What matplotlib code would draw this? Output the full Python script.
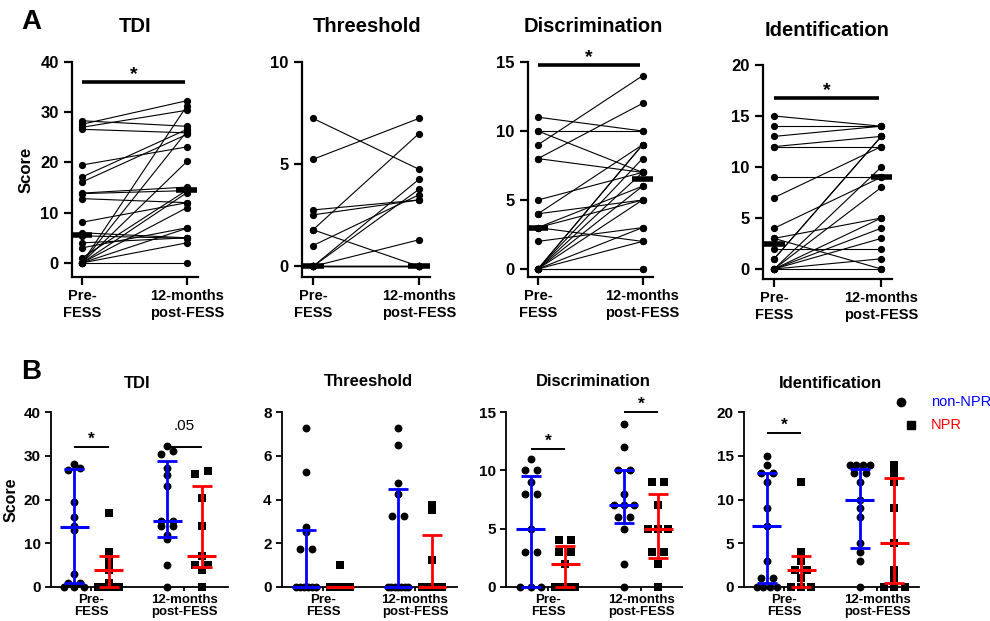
import matplotlib
matplotlib.use('Agg')
import matplotlib.pyplot as plt
import numpy as np
from matplotlib.lines import Line2D

plt.rcParams['font.family'] = ['Liberation Sans', 'DejaVu Sans']

W, H = 990, 621
fig = plt.figure(figsize=(W / 100, H / 100), dpi=100)

TESTS = ['TDI', 'Threeshold', 'Discrimination', 'Identification']
TIME_LABELS = ['Pre-\nFESS', '12-months\npost-FESS']
GROUPS = ['non-NPR', 'NPR']

# ---------------- Panel A: paired data (pre, post) ----------------
tdi_pre = [27.6, 27.0, 28.3, 26.6, 0, 19.5, 17.1, 16.1, 13.9, 13.8, 12.8, 8.1, 6.0, 5.4, 4.0, 3.0, 1.0, 0, 0, 0, 0, 0, 0, 0]
tdi_post = [32.3, 30.4, 27.2, 25.9, 31.3, 23.1, 26.6, 25.6, 15.1, 14.4, 12.0, 12.0, 5.0, 4.9, 5.0, 7.0, 14.5, 26.2, 20.2, 14.0, 11.0, 6.9, 4.0, 0]
thr_pre = [7.24, 5.24, 2.76, 2.52, 1.79, 1.79, 1.02, 0, 0, 0, 0, 0, 0, 0, 0, 0, 0, 0, 0]
thr_post = [4.75, 7.24, 3.25, 3.25, 6.5, 0, 3.5, 4.26, 3.77, 1.3, 0, 0, 0, 0, 0, 0, 0, 0, 0]
dis_pre = [9, 8, 11, 10, 10, 8, 5, 4, 4, 3, 3, 3, 2, 0, 0, 0, 0, 0, 0, 0, 0, 0, 0]
dis_post = [14, 12, 10, 10, 7, 7, 7, 9, 5, 6, 5, 2, 3, 9, 9, 8, 7, 6, 5, 3, 2, 0, 0]
idn_pre = [15, 14, 13, 12, 12, 9, 7, 4, 3, 3, 2, 1, 1, 0, 0, 0, 0, 0, 0, 0]
idn_post = [14, 14, 14, 13, 12, 9, 12, 9, 5, 0, 2, 13, 13, 10, 8, 5, 4, 3, 1, 0]
a_median_pre = [5.5, 0, 3, 2.5]
a_median_post = [14.5, 0, 6.5, 9]
a_sig_level = [36, None, 14.8, 16.8]
a_yticks = [[0, 10, 20, 30, 40], [0, 5, 10], [0, 5, 10, 15], [0, 5, 10, 15, 20]]

# ---------------- Panel B: groups ----------------
b_tdi_non_pre = [28.2, 27.2, 26.8, 19.5, 16.0, 14.0, 13.0, 3.0, 1.0, 1.0, 0, 0, 0]
b_tdi_npr_pre = [17, 8, 6, 5, 4, 1, 0, 0, 0, 0]
b_tdi_non_post = [32.2, 31.2, 30.5, 27.3, 25.7, 23.2, 15, 15, 14, 14, 12, 11, 5, 0]
b_tdi_npr_post = [26.5, 25.8, 20.3, 14, 7, 5, 5, 4, 0]
b_thr_non_pre = [7.25, 5.25, 2.75, 2.5, 1.75, 1.75, 0, 0, 0, 0, 0, 0]
b_thr_npr_pre = [1.0, 0, 0, 0, 0, 0, 0, 0]
b_thr_non_post = [7.25, 6.5, 4.75, 4.25, 3.25, 3.25, 0, 0, 0, 0, 0, 0, 0]
b_thr_npr_post = [3.75, 3.5, 1.25, 0, 0, 0, 0, 0, 0]
b_dis_non_pre = [11, 10, 10, 9, 8, 8, 5, 3, 3, 0, 0, 0]
b_dis_npr_pre = [4, 4, 3, 3, 2, 0, 0, 0, 0]
b_dis_non_post = [14, 12, 10, 10, 8, 7, 7, 7, 6, 6, 5, 2, 0]
b_dis_npr_post = [9, 9, 7, 5, 5, 5, 3, 3, 2, 0]
b_idn_non_pre = [15, 14, 13, 13, 12, 9, 7, 3, 1, 1, 0, 0, 0, 0]
b_idn_npr_pre = [12, 4, 3, 2, 2, 1, 0, 0, 0]
b_idn_non_post = [14, 14, 14, 14, 13, 13, 12, 10, 9, 8, 5, 4, 3, 0]
b_idn_npr_post = [14, 13, 12, 9, 5, 2, 1, 0, 0, 0]

# median, lower quartile, upper quartile: [non-pre, npr-pre, non-post, npr-post]
b_tdi_median = [13.8, 4, 15, 7]
b_tdi_q1 = [1, 0, 11.5, 4.5]
b_tdi_q3 = [26.9, 7.1, 28.8, 23]
b_thr_median = [0, 0, 0, 0]
b_thr_q1 = [0, 0, 0, 0]
b_thr_q3 = [2.6, 0, 4.5, 2.4]
b_dis_median = [5, 2, 7, 5]
b_dis_q1 = [0, 0, 5.5, 2.5]
b_dis_q3 = [9.5, 3.5, 10, 8]
b_idn_median = [7, 2, 10, 5]
b_idn_q1 = [0.5, 0, 4.5, 0.5]
b_idn_q3 = [13, 3.5, 13.5, 12.5]
b_yticks = [[0, 10, 20, 30, 40], [0, 2, 4, 6, 8], [0, 5, 10, 15], [0, 5, 10, 15, 20]]
# significance annotations: (time index, level, label)
b_sig = [[(0, 32, '*'), (1, 32, '.05')], [], [(0, 11.8, '*'), (1, 15, '*')], [(0, 17.6, '*')]]

GROUP_COLORS = ['#0000ff', '#ff0000']
GROUP_MARKERS = ['o', 's']


def px_axes(left, right, top, bottom):
    return fig.add_axes([left / W, 1 - bottom / H, (right - left) / W, (bottom - top) / H])


def ftext(x, y, s, **kw):
    fig.text(x / W, 1 - y / H, s, **kw)


def style_axes(ax, lw, ticklen, fs):
    for s in ['top', 'right']:
        ax.spines[s].set_visible(False)
    for s in ['left', 'bottom']:
        ax.spines[s].set_linewidth(lw)
    ax.tick_params(axis='both', width=lw, length=ticklen, labelsize=fs, color='black')
    for lab in ax.get_xticklabels() + ax.get_yticklabels():
        lab.set_fontweight('bold')


# ---------------- Panel A ----------------
a_pairs = [(tdi_pre, tdi_post), (thr_pre, thr_post), (dis_pre, dis_post), (idn_pre, idn_post)]
a_boxes = [(72, 198, 62, 277), (302, 430, 62, 277), (528, 653, 62, 277), (763, 892, 65, 279)]
a_ylims = [(-2.8, 40), (-0.52, 10), (-0.58, 15), (-0.98, 20)]
a_xlims = [(-0.095, 1.105), (-0.104, 1.104), (-0.095, 1.1), (-0.104, 1.1)]
a_title_pos = [(135, 27), (367, 26), (593, 27), (827, 30)]

for i, (pre, post) in enumerate(a_pairs):
    ax = px_axes(*a_boxes[i])
    for p, q in zip(pre, post):
        ax.plot([0, 1], [p, q], color='black', lw=0.8, marker='o', ms=4.2,
                clip_on=False, zorder=3)
    ax.hlines([a_median_pre[i]], -0.1, 0.1, color='black', lw=4, zorder=4, clip_on=False)
    ax.hlines([a_median_post[i]], 0.9, 1.1, color='black', lw=4, zorder=4, clip_on=False)
    if a_sig_level[i] is not None:
        rng = a_ylims[i][1] - a_ylims[i][0]
        ax.hlines([a_sig_level[i]], 0.0, 0.98, color='black', lw=2.6, clip_on=False)
        ax.text(0.49, a_sig_level[i] + 0.035 * rng, '*', ha='center', va='center',
                fontsize=14, fontweight='bold', clip_on=False)
    ax.set_ylim(*a_ylims[i])
    ax.set_xlim(*a_xlims[i])
    ax.set_yticks(a_yticks[i])
    ax.set_xticks([0, 1])
    ax.set_xticklabels(TIME_LABELS)
    style_axes(ax, 1.6, 6, 12)
    ax.tick_params(axis='x', labelsize=10.5, pad=3)
    ax.spines['left'].set_bounds(a_ylims[i][0], a_ylims[i][1])
    ftext(a_title_pos[i][0], a_title_pos[i][1], TESTS[i], ha='center', va='center',
          fontsize=14.5, fontweight='bold')
    if i == 0:
        ax.set_ylabel('Score', fontsize=12, fontweight='bold', labelpad=5)

ftext(31, 22, 'A', ha='center', va='center', fontsize=20, fontweight='bold')


# ---------------- Panel B ----------------
def swarm_offsets(vals, tol, dx, maxw):
    vals = np.asarray(vals, float)
    order = np.argsort(vals, kind='stable')
    offs = np.zeros(len(vals))
    bins = []
    cur = [order[0]]
    for j in order[1:]:
        if vals[j] - vals[cur[-1]] < tol:
            cur.append(j)
        else:
            bins.append(cur)
            cur = [j]
    bins.append(cur)
    for b in bins:
        n = len(b)
        step = dx if (n - 1) * dx <= maxw else maxw / max(n - 1, 1)
        for k, j in enumerate(b):
            offs[j] = (k - (n - 1) / 2) * step
    return offs


b_sets = [
    (b_tdi_non_pre, b_tdi_npr_pre, b_tdi_non_post, b_tdi_npr_post),
    (b_thr_non_pre, b_thr_npr_pre, b_thr_non_post, b_thr_npr_post),
    (b_dis_non_pre, b_dis_npr_pre, b_dis_non_post, b_dis_npr_post),
    (b_idn_non_pre, b_idn_npr_pre, b_idn_non_post, b_idn_npr_post),
]
b_stats = [
    (b_tdi_median, b_tdi_q1, b_tdi_q3),
    (b_thr_median, b_thr_q1, b_thr_q3),
    (b_dis_median, b_dis_q1, b_dis_q3),
    (b_idn_median, b_idn_q1, b_idn_q3),
]
b_boxes = [(51, 228, 412, 587), (282, 457, 412, 587), (506, 682, 412, 587), (744, 919, 412, 587)]
b_xlims = [(-0.435, 1.47), (-0.446, 1.457), (-0.45, 1.44), (-0.43, 1.45)]
b_title_pos = [(137, 383), (368, 382), (593, 382), (830, 383)]
GOFF = 0.185

for i in range(4):
    ax = px_axes(*b_boxes[i])
    ymax = b_yticks[i][-1]
    meds, q1s, q3s = b_stats[i]
    for k, vals in enumerate(b_sets[i]):
        t = k // 2
        g = k % 2
        xc = t + (-GOFF if g == 0 else GOFF)
        offs = swarm_offsets(vals, 0.022 * ymax, 0.13, 0.22)
        ax.scatter(xc + offs, vals, marker=GROUP_MARKERS[g], s=32 if g == 0 else 30,
                   color='black', zorder=2, clip_on=False, linewidths=0)
        m, lo, hi = meds[k], q1s[k], q3s[k]
        col = GROUP_COLORS[g]
        ax.errorbar([xc], [m], yerr=[[m - lo], [hi - m]], fmt='none', ecolor=col,
                    elinewidth=2, capsize=7, capthick=2, zorder=4, clip_on=False)
        ax.hlines([m], xc - 0.155, xc + 0.155, color=col, lw=2.2, zorder=5, clip_on=False)
    for (t, lev, lab) in b_sig[i]:
        ax.hlines([lev], t - GOFF, t + GOFF, color='black', lw=1.4, clip_on=False)
        if lab == '*':
            ax.text(t, lev + 0.045 * ymax, '*', ha='center', va='center', fontsize=12.5,
                    fontweight='bold', clip_on=False)
        else:
            ax.text(t, lev + 0.12 * ymax, lab, ha='center', va='center', fontsize=11,
                    clip_on=False)
    ax.set_ylim(0, ymax)
    ax.set_xlim(*b_xlims[i])
    ax.set_yticks(b_yticks[i])
    ax.set_xticks([0, 1])
    ax.set_xticklabels(TIME_LABELS, linespacing=1.0)
    style_axes(ax, 1.3, 4, 11)
    ax.tick_params(axis='x', labelsize=9.5, pad=2, length=3)
    ftext(b_title_pos[i][0], b_title_pos[i][1], TESTS[i], ha='center', va='center',
          fontsize=12, fontweight='bold')
    if i == 0:
        ax.set_ylabel('Score', fontsize=11.5, fontweight='bold', labelpad=4)

ftext(31, 372, 'B', ha='center', va='center', fontsize=20, fontweight='bold')

# legend
fig.add_artist(Line2D([901 / W], [1 - 402 / H], marker='o', color='black', ms=6,
                      linestyle='none', transform=fig.transFigure))
fig.add_artist(Line2D([911 / W], [1 - 425 / H], marker='s', color='black', ms=6,
                      linestyle='none', transform=fig.transFigure))
ftext(931, 402, GROUPS[0], ha='left', va='center', fontsize=10.5, color=GROUP_COLORS[0])
ftext(931, 425, GROUPS[1], ha='left', va='center', fontsize=10.5, color=GROUP_COLORS[1])

fig.savefig('out.png', dpi=100)
